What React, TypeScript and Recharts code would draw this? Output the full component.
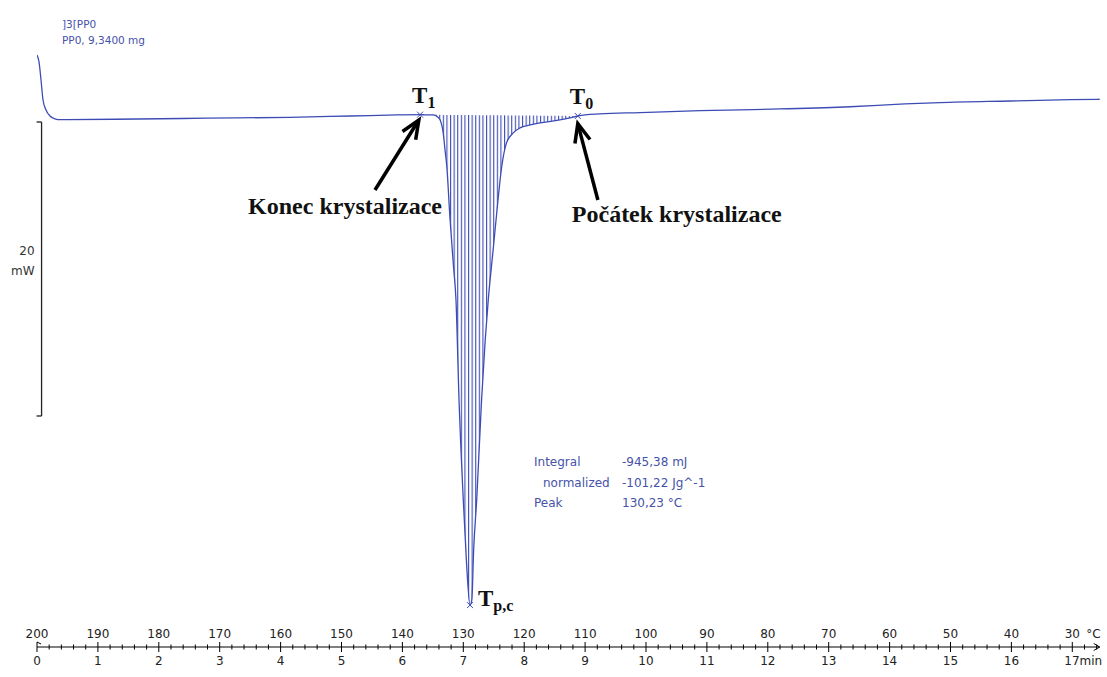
import React from 'react';
import { ComposedChart, Line, Area, XAxis, YAxis, ReferenceLine, ReferenceDot } from 'recharts';

// DSC cooling curve: time (min) vs heat flow (mW, relative)
const timeMin = [0, 0.033, 0.066, 0.099, 0.148, 0.213, 0.296, 0.378, 1.28, 2.79, 4.15, 5.14, 5.91, 6.29,
  6.37, 6.5, 6.58, 6.62, 6.67, 6.7, 6.73, 6.78, 6.84, 6.88, 6.93, 7.0, 7.05, 7.11,
  7.14, 7.17, 7.22, 7.3, 7.36, 7.41, 7.49, 7.57, 7.63, 7.71, 7.82, 7.93, 8.1, 8.26, 8.54, 8.75, 8.88,
  9.24, 9.9, 10.89, 12.2, 13.35, 14.25, 14.83, 15.98, 16.96, 17.49];
const heatFlowMW = [4.42, 3.95, 2.72, 1.36, 0.68, 0.27, 0.08, 0.02, 0.05, 0.12, 0.18, 0.27, 0.34, 0.36,
  0.35, 0.34, 0.2, 0, -0.88, -2.04, -3.2, -6.6, -10.0, -12.24, -19.05, -25.85, -29.9, -33.0,
  -32.65, -29.25, -25.85, -19.05, -14.97, -12.24, -8.84, -5.44, -3.2, -1.56, -0.88, -0.54, -0.34, -0.2, -0.03, 0.14, 0.27,
  0.41, 0.5, 0.63, 0.75, 0.9, 1.09, 1.18, 1.29, 1.38, 1.41];

const minuteLabels = [0, 1, 2, 3, 4, 5, 6, 7, 8, 9, 10, 11, 12, 13, 14, 15, 16, 17];
const temperatureLabels = [200, 190, 180, 170, 160, 150, 140, 130, 120, 110, 100, 90, 80, 70, 60, 50, 40, 30];

const T1 = { t: 6.29, v: 0.36 };
const T0 = { t: 8.88, v: 0.27 };
const PEAK = { t: 7.11, v: -33.0 };
const SCALE_BAR = { t: 0.075, top: -0.136, bottom: -20.136 };
const KONEC_ARROW = { tail: { t: 5.55, v: -4.76 }, head: { t: 6.27, v: 0.0 } };
const POCATEK_ARROW = { tail: { t: 9.21, v: -5.44 }, head: { t: 8.88, v: -0.25 } };

const X_MAX = 17.45;
const Y_DOMAIN: [number, number] = [-35.85, 5.44];

const BLUE = '#3d4cb5';
const TEXT_BLUE = '#4652a8';

const rows = timeMin.map((t, i) => {
  const v = heatFlowMW[i];
  const row: any = { t, v };
  if (t >= T1.t && t <= T0.t) {
    const base = T1.v + ((T0.v - T1.v) * (t - T1.t)) / (T0.t - T1.t);
    row.band = [v, base];
  }
  return row;
});

const axisTicks: number[] = [];
for (let i = 0; i <= 87; i++) axisTicks.push(Math.round(i * 2) / 10);
axisTicks.push(X_MAX);

const AxisTick = (props: any) => {
  const { x, y, payload } = props;
  const val = payload.value;
  if (val > 17.41) {
    return (
      <path d={`M${x - 6},${y - 3.5} L${x},${y} L${x - 6},${y + 3.5}`} stroke="#000" strokeWidth={1} fill="none" />
    );
  }
  const idx = Math.round(val);
  const major = Math.abs(val - idx) < 1e-6;
  if (!major) {
    return <line x1={x} x2={x} y1={y - 2.5} y2={y + 2.5} stroke="#000" strokeWidth={1} />;
  }
  const isLast = idx === 17;
  return (
    <g>
      <line x1={x} x2={x} y1={y - 5} y2={y + 5} stroke="#000" strokeWidth={1} />
      {idx === 0 && <line x1={x} x2={x + 4} y1={y - 5} y2={y - 3} stroke="#000" strokeWidth={1} />}
      <text x={x} y={y - 9} textAnchor="middle" fontFamily="DejaVu Sans" fontSize={12} fill="#222">
        {temperatureLabels[idx]}
      </text>
      {isLast && (
        <text x={x + 14} y={y - 9} textAnchor="start" fontFamily="DejaVu Sans" fontSize={12} fill="#222">°C</text>
      )}
      {isLast ? (
        <text x={x - 8} y={y + 18} textAnchor="start" fontFamily="DejaVu Sans" fontSize={12} fill="#222">
          {minuteLabels[idx]}min
        </text>
      ) : (
        <text x={x} y={y + 18} textAnchor="middle" fontFamily="DejaVu Sans" fontSize={12} fill="#222">
          {minuteLabels[idx]}
        </text>
      )}
    </g>
  );
};

const ArrowShape = (props: any) => {
  const { x1, y1, x2, y2 } = props;
  const ang = Math.atan2(y2 - y1, x2 - x1);
  const L = 20;
  const spread = 0.4;
  const ax = x2 - L * Math.cos(ang - spread);
  const ay = y2 - L * Math.sin(ang - spread);
  const bx = x2 - L * Math.cos(ang + spread);
  const by = y2 - L * Math.sin(ang + spread);
  return (
    <g>
      <line x1={x1} y1={y1} x2={x2} y2={y2} stroke="#000" strokeWidth={3.5} />
      <polyline points={`${ax},${ay} ${x2},${y2} ${bx},${by}`} stroke="#000" strokeWidth={3.5} fill="none" strokeLinejoin="miter" />
    </g>
  );
};

const ScaleBarShape = (props: any) => {
  const { x1, y1, x2, y2 } = props;
  return (
    <g>
      <line x1={x1} y1={y1} x2={x2} y2={y2} stroke="#222" strokeWidth={1.3} />
      <line x1={x1 - 5} y1={y1} x2={x1} y2={y1} stroke="#222" strokeWidth={1.3} />
      <line x1={x2 - 5} y1={y2} x2={x2} y2={y2} stroke="#222" strokeWidth={1.3} />
      <text x={x1 - 7} y={(y1 + y2) / 2 - 14} textAnchor="end" fontFamily="DejaVu Sans" fontSize={12} fill="#333">20</text>
      <text x={x1 - 7} y={(y1 + y2) / 2 + 6} textAnchor="end" fontFamily="DejaVu Sans" fontSize={12} fill="#333">mW</text>
    </g>
  );
};

const serif = '"Liberation Serif", "Times New Roman", serif';

const MarkerLabel = (props: any) => {
  const { cx, cy, name } = props;
  if (cx == null || cy == null) return null;
  if (name === 'T1' || name === 'T0') {
    return (
      <g>
        <line x1={cx - 3} x2={cx + 3} y1={cy - 3} y2={cy + 3} stroke={BLUE} strokeWidth={1} />
        <line x1={cx - 3} x2={cx + 3} y1={cy + 3} y2={cy - 3} stroke={BLUE} strokeWidth={1} />
        <text x={cx - 8} y={cy - 12} fontFamily={serif} fontWeight="bold" fontSize={23} fill="#111">
          T<tspan fontSize={16} dy={5}>{name === 'T1' ? '1' : '0'}</tspan>
        </text>
      </g>
    );
  }
  return (
    <g>
      <line x1={cx - 3} x2={cx + 3} y1={cy - 3} y2={cy + 3} stroke={BLUE} strokeWidth={1} />
      <line x1={cx - 3} x2={cx + 3} y1={cy + 3} y2={cy - 3} stroke={BLUE} strokeWidth={1} />
      <text x={cx + 8} y={cy + 1} fontFamily={serif} fontWeight="bold" fontSize={23} fill="#111">
        T<tspan fontSize={16} dy={5}>p,c</tspan>
      </text>
    </g>
  );
};

const TextAt = (props: any) => {
  const { cx, cy, label, dx, dy } = props;
  if (cx == null || cy == null) return null;
  return (
    <text x={cx + dx} y={cy + dy} textAnchor="middle" fontFamily={serif} fontWeight="bold" fontSize={24} fill="#111">
      {label}
    </text>
  );
};

export default function App() {
  return (
    <div style={{ position: 'relative', width: 1107, height: 677, background: '#fff' }}>
      <style>{`html,body{margin:0;padding:0;overflow:hidden;}`}</style>
      <ComposedChart
        width={1107}
        height={677}
        data={rows}
        margin={{ top: 40, right: 7.3, bottom: 0, left: 37 }}
        style={{ overflow: 'visible' }}
      >
        <defs>
          <pattern id="hatch" width="3.6" height="10" patternUnits="userSpaceOnUse">
            <rect x="0" y="0" width="1.1" height="10" fill={BLUE} />
          </pattern>
        </defs>
        <XAxis
          type="number"
          dataKey="t"
          domain={[0, X_MAX]}
          ticks={axisTicks}
          interval={0}
          tick={<AxisTick />}
          tickLine={false}
          tickSize={0}
          tickMargin={0}
          axisLine={{ stroke: '#000', strokeWidth: 1 }}
          height={30}
          allowDataOverflow
        />
        <YAxis type="number" domain={Y_DOMAIN} hide allowDataOverflow />
        <Area
          type="monotone"
          dataKey="band"
          stroke="none"
          fill="url(#hatch)"
          fillOpacity={1}
          isAnimationActive={false}
          connectNulls={false}
        />
        <Line
          type="monotone"
          dataKey="v"
          stroke={BLUE}
          strokeWidth={1.3}
          dot={false}
          isAnimationActive={false}
        />
        <ReferenceLine
          segment={[{ x: SCALE_BAR.t, y: SCALE_BAR.top }, { x: SCALE_BAR.t, y: SCALE_BAR.bottom }]}
          ifOverflow="visible"
          shape={<ScaleBarShape />}
        />
        <ReferenceLine
          segment={[KONEC_ARROW.tail, KONEC_ARROW.head].map((p) => ({ x: p.t, y: p.v }))}
          ifOverflow="visible"
          shape={<ArrowShape />}
        />
        <ReferenceLine
          segment={[POCATEK_ARROW.tail, POCATEK_ARROW.head].map((p) => ({ x: p.t, y: p.v }))}
          ifOverflow="visible"
          shape={<ArrowShape />}
        />
        <ReferenceDot x={T1.t} y={T1.v} ifOverflow="visible" shape={<MarkerLabel name="T1" />} />
        <ReferenceDot x={T0.t} y={T0.v} ifOverflow="visible" shape={<MarkerLabel name="T0" />} />
        <ReferenceDot x={PEAK.t} y={PEAK.v} ifOverflow="visible" shape={<MarkerLabel name="Tp" />} />
        <ReferenceDot x={T1.t} y={T1.v} ifOverflow="visible" shape={<TextAt label="Konec krystalizace" dx={-75} dy={99} />} />
        <ReferenceDot x={T0.t} y={T0.v} ifOverflow="visible" shape={<TextAt label="Počátek krystalizace" dx={99} dy={106} />} />
      </ComposedChart>
      <div style={{ position: 'absolute', left: 62, top: 16, fontFamily: 'DejaVu Sans', fontSize: 10.5, color: TEXT_BLUE, lineHeight: '16px', whiteSpace: 'pre' }}>
        <div>]3[PP0</div>
        <div>PP0, 9,3400 mg</div>
      </div>
      <div style={{ position: 'absolute', left: 534, top: 452, fontFamily: 'DejaVu Sans', fontSize: 12, color: TEXT_BLUE, lineHeight: '20.5px', whiteSpace: 'pre' }}>
        <div style={{ display: 'flex' }}><span style={{ width: 88 }}>Integral</span><span>-945,38 mJ</span></div>
        <div style={{ display: 'flex' }}><span style={{ width: 88, paddingLeft: 9, boxSizing: 'border-box' }}>normalized</span><span>-101,22 Jg^-1</span></div>
        <div style={{ display: 'flex' }}><span style={{ width: 88 }}>Peak</span><span>130,23 °C</span></div>
      </div>
    </div>
  );
}
